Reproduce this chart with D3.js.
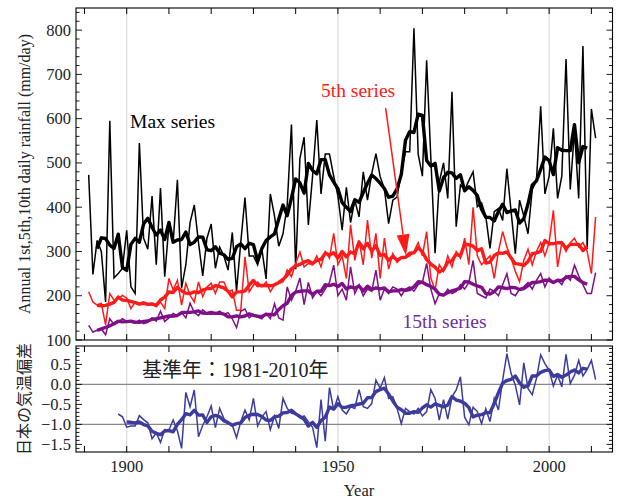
<!DOCTYPE html>
<html>
<head>
<meta charset="utf-8">
<script src="https://cdn.jsdelivr.net/npm/d3@7"></script>
<style>
  html, body { margin: 0; padding: 0; background: #fff; }
  svg text { font-family: "Liberation Serif", "Times New Roman", serif; }
</style>
</head>
<body>
<svg id="chart" width="618" height="499"></svg>
<script>
// Annual maximum, 5th and 15th largest daily rainfall (mm/day), 1891-2011
const rainStart = 1891;
const maxSeries = [473,248,325,300,186,595,240,250,262,348,220,205,545,330,305,425,270,443,243,360,
  320,462,218,270,365,405,320,245,330,362,262,310,290,258,343,210,320,422,290,290,
  270,305,238,430,380,312,340,405,587,260,510,558,360,470,597,430,520,520,470,425,
  348,445,365,416,378,480,416,476,521,469,442,363,416,423,480,525,525,804,520,470,
  732,510,296,457,500,420,661,356,450,439,460,480,401,410,380,307,390,397,370,487,
  390,295,416,380,340,440,460,628,430,470,578,420,470,735,440,574,420,764,305,622,556];
const fifthSeries = [209,186,179,183,134,205,190,194,201,195,171,186,183,186,179,181,175,186,171,239,
  213,235,179,228,201,186,231,198,220,228,205,231,231,209,213,167,167,288,209,224,
  231,220,231,209,224,228,231,258,243,273,299,265,273,270,290,265,300,285,341,270,
  290,239,360,280,325,270,371,285,341,239,330,260,295,275,285,285,290,300,320,290,
  345,240,213,270,255,290,265,300,285,330,270,400,290,270,280,290,239,300,345,310,
  285,255,232,280,305,270,300,320,290,320,393,265,320,300,320,330,310,320,300,250,378];
const fifteenthSeries = [133,118,122,125,112,148,135,140,148,142,140,138,145,137,140,150,143,165,142,150,
  160,155,162,150,183,162,155,168,160,158,160,165,158,162,148,128,165,170,150,158,
  152,148,160,148,182,150,145,220,190,210,240,180,230,195,210,200,215,230,269,200,
  215,190,265,205,225,200,215,210,258,190,215,205,220,215,200,215,220,210,225,230,
  273,215,182,205,200,215,205,210,225,215,230,280,205,200,195,215,210,200,225,250,
  205,200,215,220,230,215,235,250,220,240,230,235,225,245,235,269,245,225,205,205,252];

// Temperature anomaly for Japan (deg C, relative to 1981-2010), 1898-2011
const tempStart = 1898;
const tempAnomaly = [
  -0.74,-0.81,-1.07,-1.04,-1.04,-0.78,-0.88,-0.96,-1.36,-1.21,   // 1898-1907
  -1.45,-1.13,-1.14,-0.89,-1.16,-1.60,-0.20,-0.56,-0.14,-1.31,   // 1908-1917
  -1.02,-0.81,-0.54,-1.08,-0.60,-0.85,-0.98,-1.02,-1.33,-0.93,   // 1918-1927
  -0.64,-0.89,-0.35,-1.04,-0.81,-0.68,-1.13,-0.79,-1.10,-0.35,   // 1928-1937
  -0.60,-0.72,-0.74,-0.83,-0.79,-0.93,-1.07,-1.58,-0.38,-1.42,   // 1938-1947
  -0.08,-0.64,-0.31,-0.64,-0.74,-0.56,-0.60,-0.13,-0.56,-0.60,   // 1948-1957
  -0.48,0.11,-0.10,0.17,-0.35,-0.31,-0.60,-0.98,-0.60,-0.68,     // 1958-1967
  -0.74,-0.60,-0.79,-0.68,-0.13,-0.35,-0.89,-0.38,-0.87,-0.31,   // 1968-1977
  -0.14,0.19,-0.82,-1.01,-0.57,-0.68,-0.98,-0.61,-0.93,-0.35,    // 1978-1987
  -0.64,0.11,0.77,0.27,-0.02,-0.51,0.54,-0.10,-0.26,0.15,        // 1988-1997
  0.74,0.52,0.36,-0.04,0.23,-0.06,0.75,0.02,0.23,0.60,           // 1998-2007
  0.21,0.37,0.60,0.12];                                          // 2008-2011

// Axis tick values
const rainTicks = [100,200,300,400,500,600,700,800];
const tempTicks = [-1.5,-1.0,-0.5,0.0,0.5];
const yearTicks = [1900,1950,2000];
const yearGrid = [1900,1950,2000];
const tempGridLines = [0.0,-1.0];

const colors = { max: "#000000", fifth: "#ff1a1a", fifteenth: "#7f0f87", temp: "#3c3c9e", label15: "#6b2fa3" };

// centred 5-year running mean
function runningMean(values, start, half) {
  const out = [];
  for (let i = half; i < values.length - half; i++) {
    let s = 0;
    for (let k = -half; k <= half; k++) s += values[i + k];
    out.push({ year: start + i, value: s / (2 * half + 1) });
  }
  return out;
}
const toPoints = (values, start) => values.map((v, i) => ({ year: start + i, value: v }));

const svg = d3.select("#chart");
const left = 76, right = 612.5;

const x = d3.scaleLinear().domain([1888, 2015]).range([left, right]);
const yTop = d3.scaleLinear().domain([100, 850]).range([340, 8]);
const yBot = d3.scaleLinear().domain([-1.69, 0.96]).range([452, 346]);

function drawFrame(y, yMajor, yMinor, labelFmt, showXLabels) {
  const [b, t] = y.range();
  const g = svg.append("g");
  const xt = d3.range(1890, 2011, 10);
  // year ticks on top and bottom edges
  g.selectAll("line.xt").data(xt).join("line")
    .attr("x1", d => x(d)).attr("x2", d => x(d)).attr("y1", t).attr("y2", t + 6)
    .attr("stroke", "#000").attr("stroke-width", 1);
  g.selectAll("line.xb").data(xt).join("line")
    .attr("x1", d => x(d)).attr("x2", d => x(d)).attr("y1", b).attr("y2", b - 6)
    .attr("stroke", "#000").attr("stroke-width", 1);
  // value ticks on left and right edges
  const ticks = yMinor.map(v => ({ v, major: yMajor.some(m => Math.abs(m - v) < 1e-6) }));
  [left, right].forEach((ex, side) => {
    const dir = side === 0 ? 1 : -1;
    g.selectAll(null).data(ticks).join("line")
      .attr("x1", ex).attr("x2", d => ex + dir * (d.major ? 6 : 3.5))
      .attr("y1", d => y(d.v)).attr("y2", d => y(d.v))
      .attr("stroke", "#000").attr("stroke-width", 0.9);
  });
  g.append("rect").attr("x", left).attr("y", t).attr("width", right - left).attr("height", b - t)
    .attr("fill", "none").attr("stroke", "#000").attr("stroke-width", 1.1);
  g.selectAll("text.yl").data(yMajor).join("text")
    .attr("x", left - 5).attr("y", d => y(d) + 5.5)
    .attr("text-anchor", "end").attr("font-size", 16.5).attr("fill", "#222")
    .text(labelFmt);
  if (showXLabels) {
    g.selectAll("text.xl").data(yearTicks).join("text")
      .attr("x", d => x(d)).attr("y", b + 20)
      .attr("text-anchor", "middle").attr("font-size", 16.5).attr("fill", "#222")
      .text(d => d);
  }
}

function line(y) {
  return d3.line().x(d => x(d.year)).y(d => y(d.value));
}

// ---------- upper panel: rainfall ----------
svg.append("g").selectAll("line").data(yearGrid).join("line")
  .attr("x1", d => x(d)).attr("x2", d => x(d)).attr("y1", yTop.range()[1]).attr("y2", yTop.range()[0])
  .attr("stroke", "#dadada").attr("stroke-width", 1.2);

const rainSets = [
  { values: maxSeries, color: colors.max },
  { values: fifthSeries, color: colors.fifth },
  { values: fifteenthSeries, color: colors.fifteenth }
];
const topG = svg.append("g");
rainSets.forEach(s => {
  topG.append("path").datum(toPoints(s.values, rainStart))
    .attr("d", line(yTop)).attr("fill", "none").attr("stroke", s.color)
    .attr("stroke-width", 1.5).attr("stroke-linejoin", "miter");
  topG.append("path").datum(runningMean(s.values, rainStart, 2))
    .attr("d", line(yTop)).attr("fill", "none").attr("stroke", s.color)
    .attr("stroke-width", 3.4).attr("stroke-linejoin", "round");
});

drawFrame(yTop, rainTicks, d3.range(100, 841, 20), d => d, false);

// annotations
svg.append("text").attr("x", x(1900.8)).attr("y", yTop(578)).attr("font-size", 19.5)
  .attr("fill", colors.max).text("Max series");
svg.append("text").attr("x", x(1946)).attr("y", yTop(650)).attr("font-size", 19.5)
  .attr("fill", colors.fifth).text("5th series");
svg.append("text").attr("x", x(1965.3)).attr("y", yTop(128)).attr("font-size", 19.5)
  .attr("fill", colors.label15).text("15th series");

// arrow toward the 5th-series curve
const a0 = [x(1961.3), yTop(624)], a1 = [x(1966.1), yTop(291)];
const ang = Math.atan2(a1[1] - a0[1], a1[0] - a0[0]);
const headLen = 21, headW = 6.5;
const base = [a1[0] - headLen * Math.cos(ang), a1[1] - headLen * Math.sin(ang)];
svg.append("line").attr("x1", a0[0]).attr("y1", a0[1]).attr("x2", base[0]).attr("y2", base[1])
  .attr("stroke", colors.fifth).attr("stroke-width", 1.5);
svg.append("path")
  .attr("d", `M${a1[0]},${a1[1]} L${base[0] + headW * Math.sin(ang)},${base[1] - headW * Math.cos(ang)} L${base[0] - headW * Math.sin(ang)},${base[1] + headW * Math.cos(ang)} Z`)
  .attr("fill", colors.fifth);

svg.append("text")
  .attr("transform", `translate(30, ${(yTop(100) + yTop(850)) / 2}) rotate(-90)`)
  .attr("text-anchor", "middle").attr("font-size", 16).attr("fill", "#222")
  .text("Annual 1st,5th,10th daily rainfall (mm/day)");

// ---------- lower panel: temperature anomaly ----------
const botG = svg.append("g");
botG.selectAll("line.vg").data(yearGrid).join("line")
  .attr("x1", d => x(d)).attr("x2", d => x(d)).attr("y1", yBot.range()[1]).attr("y2", yBot.range()[0])
  .attr("stroke", "#dadada").attr("stroke-width", 1.2);
botG.selectAll("line.hg").data(tempGridLines).join("line")
  .attr("x1", left).attr("x2", right).attr("y1", d => yBot(d)).attr("y2", d => yBot(d))
  .attr("stroke", "#8a8a8a").attr("stroke-width", 1.2);

botG.append("path").datum(toPoints(tempAnomaly, tempStart))
  .attr("d", line(yBot)).attr("fill", "none").attr("stroke", colors.temp).attr("stroke-width", 1.5);
botG.append("path").datum(runningMean(tempAnomaly, tempStart, 2))
  .attr("d", line(yBot)).attr("fill", "none").attr("stroke", colors.temp)
  .attr("stroke-width", 3.4).attr("stroke-linejoin", "round");

drawFrame(yBot, tempTicks, d3.range(-1.6, 0.95, 0.1).map(v => Math.round(v * 10) / 10),
  d => d3.format(".1f")(d).replace("-", "\u2212"), true);

svg.append("text").attr("x", x(1903.6)).attr("y", yBot(0.18)).attr("font-size", 20).attr("fill", "#222")
  .style("font-family", "'Liberation Serif', 'Noto Sans CJK JP', serif")
  .text("基準年：1981-2010年");

svg.append("text")
  .attr("transform", `translate(30, ${(yBot(-1.69) + yBot(0.96)) / 2}) rotate(-90)`)
  .attr("text-anchor", "middle").attr("font-size", 16).attr("fill", "#222")
  .style("font-family", "'Noto Sans CJK JP', sans-serif")
  .text("日本の気温偏差");

svg.append("text").attr("x", x(1955)).attr("y", 496).attr("text-anchor", "middle")
  .attr("font-size", 16.5).attr("fill", "#222").text("Year");
</script>
</body>
</html>
